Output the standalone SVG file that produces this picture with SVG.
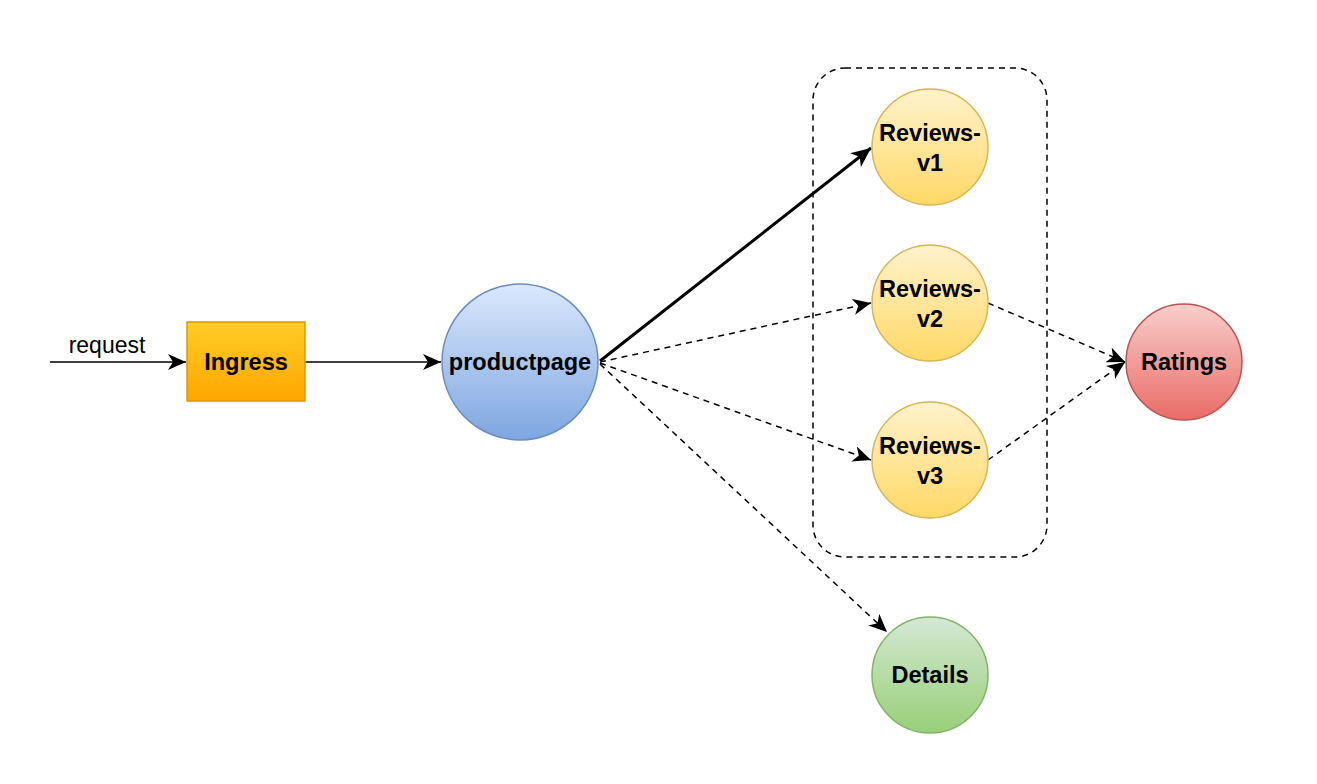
<svg xmlns="http://www.w3.org/2000/svg" width="1317" height="784" viewBox="0 0 1317 784">
<defs>
<linearGradient id="gOrange" x1="0" y1="0" x2="0" y2="1"><stop offset="0" stop-color="#ffcd28"/><stop offset="1" stop-color="#ffa500"/></linearGradient>
<linearGradient id="gBlue" x1="0" y1="0" x2="0" y2="1"><stop offset="0" stop-color="#dae8fc"/><stop offset="1" stop-color="#7ea6e0"/></linearGradient>
<linearGradient id="gYellow" x1="0" y1="0" x2="0" y2="1"><stop offset="0" stop-color="#fff2cc"/><stop offset="1" stop-color="#ffd966"/></linearGradient>
<linearGradient id="gRed" x1="0" y1="0" x2="0" y2="1"><stop offset="0" stop-color="#f8cecc"/><stop offset="1" stop-color="#ea6b66"/></linearGradient>
<linearGradient id="gGreen" x1="0" y1="0" x2="0" y2="1"><stop offset="0" stop-color="#d5e8d4"/><stop offset="1" stop-color="#97d077"/></linearGradient>
<marker id="arr" viewBox="0 0 20 16" refX="18" refY="8" markerWidth="20" markerHeight="16" markerUnits="userSpaceOnUse" orient="auto">
<path d="M0,0 L18,8 L0,16 L5,8 Z" fill="#000"/>
</marker>
<marker id="arrB" viewBox="0 0 20 16" refX="18" refY="8" markerWidth="22" markerHeight="18" markerUnits="userSpaceOnUse" orient="auto">
<path d="M0,0 L18,8 L0,16 L5,8 Z" fill="#000"/>
</marker>
</defs>
<style>
.lbl{font-family:"Liberation Sans",Arial,sans-serif;font-weight:bold;font-size:23.5px;fill:#000;text-anchor:middle}
.plain{font-family:"Liberation Sans",Arial,sans-serif;font-size:23px;fill:#000;text-anchor:middle}
.solid{stroke:#000;stroke-width:1.5;fill:none}
.dash{stroke:#000;stroke-width:1.5;fill:none;stroke-dasharray:6 5}
</style>
<rect width="1317" height="784" fill="#fff"/>
<g id="group-reviews">
<rect x="813" y="68" width="234" height="489" rx="32" ry="32" fill="none" stroke="#000" stroke-width="1.5" stroke-dasharray="6 5"/>
</g>
<g id="connectors">
<line class="solid" x1="50" y1="362" x2="186" y2="362" marker-end="url(#arr)"/>
<text class="plain" x="107" y="353">request</text>
<line class="solid" x1="305" y1="362" x2="441" y2="362" marker-end="url(#arr)"/>
<line x1="600" y1="361" x2="871" y2="148" stroke="#000" stroke-width="3" marker-end="url(#arrB)"/>
<line class="dash" x1="600" y1="362" x2="871" y2="303" marker-end="url(#arr)"/>
<line class="dash" x1="600" y1="363" x2="871" y2="460" marker-end="url(#arr)"/>
<line class="dash" x1="600" y1="364" x2="887" y2="632" marker-end="url(#arr)"/>
<line class="dash" x1="988" y1="303" x2="1125" y2="362" marker-end="url(#arr)"/>
<line class="dash" x1="988" y1="460" x2="1125" y2="362" marker-end="url(#arr)"/>
</g>
<g id="ingress">
<rect x="187" y="322" width="118" height="79" fill="url(#gOrange)" stroke="#d79b00" stroke-width="1.5"/>
<text class="lbl" x="246" y="370">Ingress</text>
</g>
<g id="productpage">
<circle cx="520" cy="362" r="78" fill="url(#gBlue)" stroke="#6c8ebf" stroke-width="1.5"/>
<text class="lbl" x="520" y="370">productpage</text>
</g>
<g id="reviews-v1">
<circle cx="930" cy="147" r="58" fill="url(#gYellow)" stroke="#d6b656" stroke-width="1.5"/>
<text class="lbl" x="930" y="141">Reviews-</text>
<text class="lbl" x="930" y="171">v1</text>
</g>
<g id="reviews-v2">
<circle cx="930" cy="303" r="58" fill="url(#gYellow)" stroke="#d6b656" stroke-width="1.5"/>
<text class="lbl" x="930" y="297">Reviews-</text>
<text class="lbl" x="930" y="327">v2</text>
</g>
<g id="reviews-v3">
<circle cx="930" cy="460" r="58" fill="url(#gYellow)" stroke="#d6b656" stroke-width="1.5"/>
<text class="lbl" x="930" y="454">Reviews-</text>
<text class="lbl" x="930" y="484">v3</text>
</g>
<g id="ratings">
<circle cx="1184" cy="362" r="58" fill="url(#gRed)" stroke="#b85450" stroke-width="1.5"/>
<text class="lbl" x="1184" y="370">Ratings</text>
</g>
<g id="details">
<circle cx="930" cy="675" r="58" fill="url(#gGreen)" stroke="#82b366" stroke-width="1.5"/>
<text class="lbl" x="930" y="683">Details</text>
</g>
</svg>
